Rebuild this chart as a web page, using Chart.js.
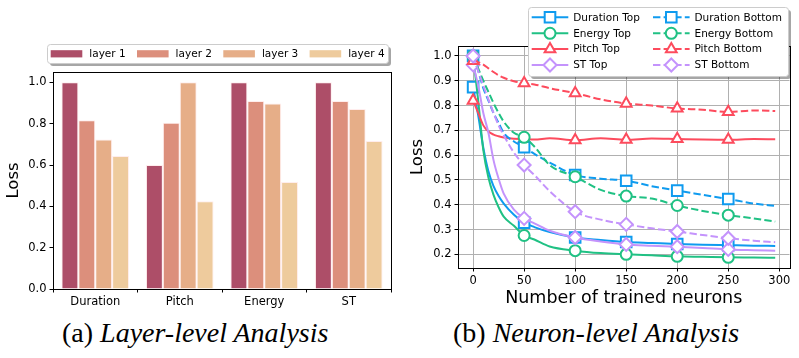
<!DOCTYPE html>
<html>
<head>
<meta charset="utf-8">
<script src="https://cdn.jsdelivr.net/npm/chart.js@4.4.1/dist/chart.umd.min.js"></script>
<style>
  body { margin: 0; background: #fff; width: 799px; height: 358px; overflow: hidden; position: relative; }
  #c1 { position: absolute; left: 0; top: 0; }
  #c2 { position: absolute; left: 400px; top: 0; }
  .cap { position: absolute; top: 317px; font-family: 'Liberation Serif'; font-size: 28px; white-space: nowrap; color: #000; }
</style>
</head>
<body>
<canvas id="c1" width="400" height="310"></canvas>
<canvas id="c2" width="399" height="310"></canvas>
<div class="cap" id="capA" style="left:62px">(a) <i>Layer-level Analysis</i></div>
<div class="cap" id="capB" style="left:453px">(b) <i>Neuron-level Analysis</i></div>
<script>
// ---- left panel: layer-level
const categories = ['Duration', 'Pitch', 'Energy', 'ST'];
const layerNames = ['layer 1', 'layer 2', 'layer 3', 'layer 4'];
const layer1 = [1.0, 0.600, 1.0, 1.0];
const layer2 = [0.816, 0.805, 0.910, 0.910];
const layer3 = [0.723, 1.0, 0.897, 0.871];
const layer4 = [0.644, 0.424, 0.518, 0.716];
const layerColors = ['#ad4e68', '#dc8f7c', '#e6ae88', '#eecb9d'];
const lossTicks = [0, 0.2, 0.4, 0.6, 0.8, 1.0];

// ---- right panel: neuron-level
const neurons = [0, 5, 10, 15, 20, 25, 30, 40, 50, 60, 75, 100, 125, 150, 175, 200, 225, 250, 275, 296];
const durationTop    = [0.874, 0.76, 0.63, 0.535, 0.475, 0.435, 0.405, 0.36, 0.328, 0.31, 0.29, 0.268, 0.258, 0.25, 0.246, 0.242, 0.239, 0.237, 0.235, 0.234];
const energyTop      = [1.0, 0.82, 0.62, 0.51, 0.44, 0.39, 0.352, 0.315, 0.276, 0.26, 0.232, 0.215, 0.205, 0.2, 0.196, 0.192, 0.19, 0.188, 0.187, 0.186];
const pitchTop       = [0.82, 0.77, 0.72, 0.695, 0.683, 0.676, 0.671, 0.666, 0.665, 0.663, 0.668, 0.66, 0.668, 0.662, 0.667, 0.665, 0.663, 0.662, 0.665, 0.664];
const stTop          = [0.964, 0.88, 0.77, 0.69, 0.58, 0.505, 0.445, 0.38, 0.345, 0.325, 0.295, 0.268, 0.252, 0.24, 0.235, 0.231, 0.226, 0.22, 0.217, 0.215];
const durationBottom = [1.0, 0.94, 0.87, 0.82, 0.77, 0.73, 0.69, 0.655, 0.632, 0.605, 0.57, 0.52, 0.505, 0.497, 0.475, 0.457, 0.44, 0.423, 0.405, 0.395];
const energyBottom   = [1.0, 0.95, 0.9, 0.855, 0.81, 0.77, 0.735, 0.69, 0.672, 0.635, 0.56, 0.513, 0.46, 0.435, 0.425, 0.397, 0.375, 0.358, 0.345, 0.332];
const pitchBottom    = [0.98, 0.975, 0.965, 0.95, 0.935, 0.922, 0.912, 0.898, 0.89, 0.885, 0.87, 0.85, 0.825, 0.808, 0.80, 0.788, 0.783, 0.774, 0.78, 0.778];
const stBottom       = [1.0, 0.94, 0.88, 0.825, 0.77, 0.72, 0.68, 0.61, 0.56, 0.52, 0.455, 0.372, 0.34, 0.321, 0.305, 0.292, 0.278, 0.265, 0.255, 0.249];

Chart.defaults.font.family = 'DejaVu Sans';
Chart.defaults.color = '#000';
Chart.defaults.animation = false;

function legendBox(ctx, x, y, w, h) {
  ctx.save();
  ctx.fillStyle = 'rgba(0,0,0,0.35)';
  roundRect(ctx, x + 2.5, y + 2.5, w, h, 3); ctx.fill();
  ctx.fillStyle = '#fff';
  ctx.strokeStyle = '#cccccc';
  ctx.lineWidth = 1;
  roundRect(ctx, x, y, w, h, 3); ctx.fill(); ctx.stroke();
  ctx.restore();
}
function roundRect(ctx, x, y, w, h, r) {
  ctx.beginPath();
  ctx.moveTo(x + r, y);
  ctx.arcTo(x + w, y, x + w, y + h, r);
  ctx.arcTo(x + w, y + h, x, y + h, r);
  ctx.arcTo(x, y + h, x, y, r);
  ctx.arcTo(x, y, x + w, y, r);
  ctx.closePath();
}
function drawMarker(ctx, style, r, x, y) {
  ctx.beginPath();
  if (style === 'rect') {
    const s = r * Math.SQRT1_2;
    ctx.rect(x - s, y - s, 2 * s, 2 * s);
  } else if (style === 'circle') {
    ctx.arc(x, y, r, 0, Math.PI * 2);
  } else if (style === 'triangle') {
    ctx.moveTo(x, y - r);
    ctx.lineTo(x + r * Math.sin(2 * Math.PI / 3), y - r * Math.cos(2 * Math.PI / 3));
    ctx.lineTo(x + r * Math.sin(4 * Math.PI / 3), y - r * Math.cos(4 * Math.PI / 3));
    ctx.closePath();
  } else {
    ctx.moveTo(x, y - r); ctx.lineTo(x + r, y); ctx.lineTo(x, y + r); ctx.lineTo(x - r, y);
    ctx.closePath();
  }
  ctx.fill(); ctx.stroke();
}
function frame(chart) {
  const a = chart.chartArea, ctx = chart.ctx;
  ctx.save();
  ctx.strokeStyle = '#000'; ctx.lineWidth = 1;
  ctx.strokeRect(Math.round(a.left) + 0.5, Math.round(a.top) + 0.5, Math.round(a.right - a.left), Math.round(a.bottom - a.top));
  ctx.restore();
}

// left chart
new Chart(document.getElementById('c1'), {
  type: 'bar',
  data: {
    labels: categories,
    datasets: [layer1, layer2, layer3, layer4].map((d, i) => ({
      label: layerNames[i],
      data: d,
      backgroundColor: layerColors[i],
      borderColor: 'rgba(255,235,235,0.9)',
      borderWidth: 1,
      categoryPercentage: 0.8,
      barPercentage: 1.0
    }))
  },
  options: {
    responsive: false,
    layout: { padding: { top: 72, right: 9, left: 0, bottom: 0 } },
    plugins: { legend: { display: false }, tooltip: { enabled: false } },
    scales: {
      x: {
        grid: { display: true, drawOnChartArea: false, tickLength: 3.5, tickColor: '#000' },
        border: { color: '#000' },
        ticks: { font: { size: 11.5 }, padding: 3 },
        afterFit: s => { s.height = 21; }
      },
      y: {
        min: 0, max: 1.05,
        afterBuildTicks: s => { s.ticks = lossTicks.map(v => ({ value: v })); },
        grid: { display: true, drawOnChartArea: false, tickLength: 3.5, tickColor: '#000' },
        border: { color: '#000' },
        ticks: { font: { size: 11.5 }, padding: 3, callback: v => v.toFixed(1) },
        title: { display: true, text: 'Loss', font: { size: 16.5 }, padding: { top: 4, bottom: 0 } },
        afterFit: s => { s.width = 53; }
      }
    }
  },
  plugins: [{
    id: 'leftDeco',
    afterDraw(chart) {
      frame(chart);
      const ctx = chart.ctx;
      legendBox(ctx, 47.5, 44.5, 341, 19);
      ctx.save();
      ctx.font = '10.5px "DejaVu Sans"';
      ctx.textBaseline = 'middle';
      chart.data.datasets.forEach((ds, i) => {
        const x = 50.7 + i * 86.3;
        ctx.fillStyle = ds.backgroundColor;
        ctx.fillRect(x, 50.2, 31.6, 7.2);
        ctx.fillStyle = '#000';
        ctx.fillText(ds.label, x + 38.6, 54);
      });
      ctx.restore();
    }
  }]
});

// right chart
const lineSeries = [
  { label: 'Duration Top', data: durationTop, color: '#0f9bef', style: 'rect', r: 7.5, dash: [] },
  { label: 'Energy Top', data: energyTop, color: '#20c184', style: 'circle', r: 5.5, dash: [] },
  { label: 'Pitch Top', data: pitchTop, color: '#fd4b5d', style: 'triangle', r: 6.2, dash: [] },
  { label: 'ST Top', data: stTop, color: '#c493fc', style: 'rectRot', r: 6.5, dash: [] },
  { label: 'Duration Bottom', data: durationBottom, color: '#0f9bef', style: 'rect', r: 7.5, dash: [7.4, 3.2] },
  { label: 'Energy Bottom', data: energyBottom, color: '#20c184', style: 'circle', r: 5.5, dash: [7.4, 3.2] },
  { label: 'Pitch Bottom', data: pitchBottom, color: '#fd4b5d', style: 'triangle', r: 6.2, dash: [7.4, 3.2] },
  { label: 'ST Bottom', data: stBottom, color: '#c493fc', style: 'rectRot', r: 6.5, dash: [7.4, 3.2] }
];

new Chart(document.getElementById('c2'), {
  type: 'line',
  data: {
    datasets: lineSeries.map((s, i) => ({
      label: s.label,
      data: neurons.map((n, k) => ({ x: n, y: s.data[k] })),
      borderColor: s.color,
      borderWidth: 2,
      borderDash: s.dash,
      cubicInterpolationMode: 'monotone',
      pointStyle: s.style,
      pointRadius: c => (c.raw && c.raw.x % 50 === 0 ? s.r : 0),
      pointBorderWidth: 2,
      pointBorderColor: s.color,
      pointBackgroundColor: '#fff',
      order: lineSeries.length - i,
      clip: 8
    }))
  },
  options: {
    responsive: false,
    layout: { padding: { top: 46, right: 7, left: 0, bottom: 0 } },
    plugins: { legend: { display: false }, tooltip: { enabled: false } },
    scales: {
      x: {
        type: 'linear', min: -14.8, max: 310,
        ticks: { stepSize: 50, includeBounds: false, font: { size: 11.5 }, padding: 3 },
        grid: { color: '#b0b0b0', lineWidth: 1, tickLength: 3.5, tickColor: '#000' },
        border: { color: '#000' },
        title: { display: true, text: 'Number of trained neurons', font: { size: 17.5 }, padding: { top: 0, bottom: 1 } },
        afterFit: s => { s.height = 42; }
      },
      y: {
        min: 0.145, max: 1.04,
        ticks: { stepSize: 0.1, includeBounds: false, font: { size: 11.5 }, padding: 3, callback: v => v.toFixed(1) },
        grid: { color: '#b0b0b0', lineWidth: 1, tickLength: 3.5, tickColor: '#000' },
        border: { color: '#000' },
        title: { display: true, text: 'Loss', font: { size: 16.5 }, padding: { top: 8, bottom: 0 } },
        afterFit: s => { s.width = 58; }
      }
    }
  },
  plugins: [{
    id: 'rightDeco',
    afterDraw(chart) {
      frame(chart);
      const ctx = chart.ctx;
      legendBox(ctx, 128.5, 7.5, 260, 69);
      ctx.save();
      ctx.font = '10.5px "DejaVu Sans"';
      ctx.textBaseline = 'middle';
      const rows = [17.3, 33.3, 49.1, 65];
      lineSeries.forEach((s, i) => {
        const col = Math.floor(i / 4), row = i % 4;
        const x0 = col === 0 ? 131.7 : 253, y = rows[row];
        ctx.strokeStyle = s.color; ctx.lineWidth = 2;
        ctx.setLineDash(s.dash);
        ctx.beginPath(); ctx.moveTo(x0, y); ctx.lineTo(x0 + 36.6, y); ctx.stroke();
        ctx.setLineDash([]);
        ctx.fillStyle = '#fff';
        drawMarker(ctx, s.style, s.r, x0 + 18.3, y);
        ctx.fillStyle = '#000';
        ctx.fillText(s.label, x0 + 41.5, y + 0.5);
      });
      ctx.restore();
    }
  }]
});
</script>
</body>
</html>
